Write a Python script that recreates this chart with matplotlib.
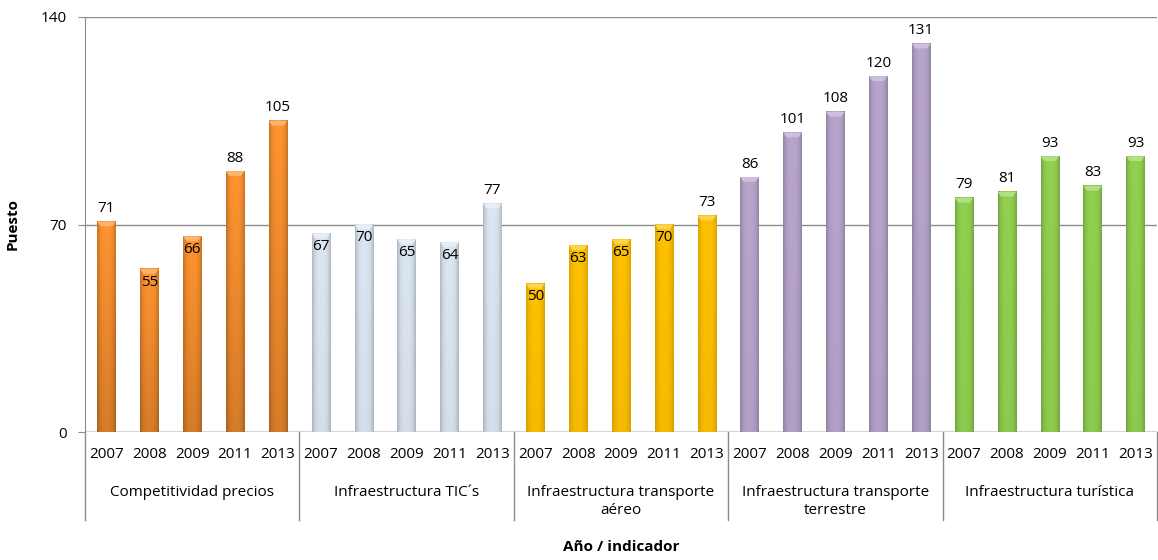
import numpy as np
import matplotlib
matplotlib.use("Agg")
import matplotlib.pyplot as plt
from matplotlib.colors import to_rgb
import matplotlib.transforms as mtransforms

plt.rcParams['font.family'] = ['Open Sans', 'DejaVu Sans']

years = ["2007", "2008", "2009", "2011", "2013"]
groups = ["Competitividad precios", "Infraestructura TIC´s",
          "Infraestructura transporte\naéreo",
          "Infraestructura transporte\nterrestre",
          "Infraestructura turística"]
competitividad = [71, 55, 66, 88, 105]
tics = [67, 70, 65, 64, 77]
aereo = [50, 63, 65, 70, 73]
terrestre = [86, 101, 108, 120, 131]
turistica = [79, 81, 93, 83, 93]
series = [competitividad, tics, aereo, terrestre, turistica]
colors = ["#FF9430", "#DCE6F2", "#FFC000", "#B7A5CC", "#92D050"]
edge_dark = [0.78, 0.80, 0.85, 0.80, 0.80]

fig = plt.figure(figsize=(11.58, 5.6), dpi=100)
ax = fig.add_axes([85 / 1158, 128 / 560, 1072 / 1158, 415 / 560])

ng = len(years)
width = 0.43
grid_c = "#8C8C8C"
fs = 11

for g, vals in enumerate(series):
    base = np.array(to_rgb(colors[g]))
    for i, v in enumerate(vals):
        x = g * ng + i
        # cylinder-like horizontal shading + darker bottom
        t = np.linspace(-1, 1, 40)
        shade = 1.0 - (1 - edge_dark[g]) * np.abs(t) ** 3
        vy = np.linspace(1.0, 0.84 if g == 0 else 0.97, 30)[:, None]
        img = np.clip(base[None, None, :] * shade[None, :, None] * vy[:, :, None], 0, 1)
        ax.imshow(img, extent=(x - width / 2, x + width / 2, 0, v),
                  aspect='auto', interpolation='bilinear', zorder=3, origin='upper')
        # light bevel at the top
        top = np.clip(base + (1 - base) * 0.3, 0, 1)
        ax.fill([x - width / 2, x + width / 2, x + width / 2 - 0.08, x - width / 2 + 0.08],
                [v, v, v - 1.6, v - 1.6], color=top, zorder=4, lw=0)
        if v <= 70:
            ax.annotate(str(v), (x, v), xytext=(0, -4), textcoords='offset points',
                        ha='center', va='top', fontsize=fs, zorder=5)
        else:
            ax.annotate(str(v), (x, v), xytext=(0, 4), textcoords='offset points',
                        ha='center', va='bottom', fontsize=fs, zorder=5)

n = ng * len(series)
ax.set_xlim(-0.5, n - 0.5)
ax.set_ylim(0, 140)
ax.set_yticks([0, 70, 140])
ax.yaxis.grid(True, color=grid_c, lw=1)
ax.set_axisbelow(True)
for s in ["top", "right", "bottom"]:
    ax.spines[s].set_visible(False)
ax.spines["left"].set_color(grid_c)
ax.axhline(0, color=grid_c, lw=1, zorder=2)
ax.tick_params(axis='y', length=5, color=grid_c, labelsize=fs, pad=8)
ax.set_xticks(range(n))
ax.set_xticklabels(years * len(series), fontsize=fs)
ax.tick_params(axis='x', length=0, pad=11)

trans = mtransforms.blended_transform_factory(ax.transData, ax.transAxes)
for g in range(len(series) + 1):
    xs = g * ng - 0.5
    ax.plot([xs, xs], [0, -0.212], color=grid_c, lw=1, transform=trans, clip_on=False)
for g, name in enumerate(groups):
    ax.text(g * ng + (ng - 1) / 2, -0.127, name, transform=trans, ha='center', va='top',
            fontsize=fs, linespacing=1.3)

fig.text(13 / 1158, 1 - 224 / 560, "Puesto", rotation=90, ha='center', va='center',
         fontsize=fs, fontweight='bold')
fig.text(621 / 1158, 1 - 547 / 560, "Año / indicador", ha='center', va='center',
         fontsize=fs, fontweight='bold')

fig.savefig("out.png", dpi=100)
